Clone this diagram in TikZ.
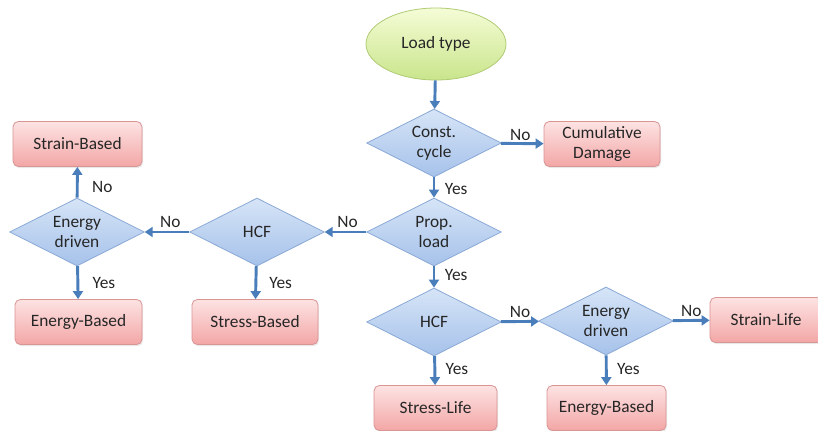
\documentclass[tikz,border=0pt]{standalone}
\usepackage{fontspec}
\setmainfont{Carlito}
\usetikzlibrary{shapes.geometric,arrows.meta,shadows}
\definecolor{dtop}{HTML}{D6E4F7}
\definecolor{dbot}{HTML}{A6C2EA}
\definecolor{dline}{HTML}{8AA9D6}
\definecolor{btop}{HTML}{FDE3E3}
\definecolor{bbot}{HTML}{F3A6A6}
\definecolor{bline}{HTML}{D99494}
\definecolor{etop}{HTML}{F5FCD6}
\definecolor{ebot}{HTML}{C9E58C}
\definecolor{eline}{HTML}{AFCB74}
\definecolor{arr}{HTML}{4A7EBB}
\tikzset{
  every node/.style={font=\fontsize{13}{15}\selectfont, text=black!85},
  dec/.style={diamond, aspect=1.98, minimum width=101pt, minimum height=51pt, inner sep=0pt,
    top color=dtop, bottom color=dbot, draw=dline, line width=0.6pt, align=center},
  res/.style={rectangle, rounded corners=4pt, minimum height=33.75pt, inner sep=2pt,
    top color=btop, bottom color=bbot, draw=bline, line width=0.6pt, align=center,
    drop shadow={opacity=0.18, shadow xshift=0.8pt, shadow yshift=-1.2pt}},
  start/.style={ellipse, minimum width=105pt, minimum height=54pt, inner sep=0pt,
    top color=etop, bottom color=ebot, draw=eline, line width=0.6pt},
  flow/.style={draw=arr, line width=2.2pt, -{Triangle[length=6pt, width=7.5pt]}},
  lbl/.style={inner sep=1pt}
}
\begin{document}
\begin{tikzpicture}[x=0.75pt, y=-0.75pt]
\useasboundingbox (0,0) rectangle (818,430);
\node[start] (load) at (436,44) {Load type};
\node[dec] (cc) at (434,143) {Const.\\cycle};
\node[res, minimum width=87pt] (cum) at (602,144) {Cumulative\\Damage};
\node[dec] (prop) at (434,232) {Prop.\\load};
\node[dec] (hcfL) at (257,232) {HCF};
\node[dec] (enL) at (77,232) {Energy\\driven};
\node[res, minimum width=96.75pt] (strB) at (77.5,144) {Strain-Based};
\node[res, minimum width=95.25pt] (enBL) at (78.5,322) {Energy-Based};
\node[res, minimum width=94.5pt] (stB) at (255,322) {Stress-Based};
\node[dec] (hcfR) at (434,322) {HCF};
\node[dec] (enR) at (606,321) {Energy\\driven};
\node[res, minimum width=84pt] (strL) at (766,320) {Strain-Life};
\node[res, minimum width=92.25pt] (stL) at (435.5,408) {Stress-Life};
\node[res, minimum width=89.25pt] (enBR) at (606.5,408) {Energy-Based};

\draw[flow] (load) -- (cc);
\draw[flow] (cc) -- node[lbl, above, xshift=-1.5pt] {No} (cum);
\draw[flow] (cc) -- node[lbl, right, xshift=6pt, pos=0.55] {Yes} (prop);
\draw[flow] (prop) -- node[lbl, above, xshift=1.5pt, yshift=1pt] {No} (hcfL);
\draw[flow] (hcfL) -- node[lbl, above, xshift=2.5pt, yshift=1pt] {No} (enL);
\draw[flow] (enL) -- node[lbl, right, xshift=9pt, pos=0.35] {No} (strB);
\draw[flow] (enL) -- node[lbl, right, xshift=9pt, pos=0.5] {Yes} (enBL);
\draw[flow] (hcfL) -- node[lbl, right, xshift=8pt, pos=0.5] {Yes} (stB);
\draw[flow] (prop) -- node[lbl, right, xshift=6pt, pos=0.4] {Yes} (hcfR);
\draw[flow] (hcfR) -- node[lbl, above, yshift=1pt] {No} (enR);
\draw[flow] (enR) -- node[lbl, above, yshift=1pt] {No} (strL);
\draw[flow] (hcfR) -- node[lbl, right, xshift=6pt, pos=0.45] {Yes} (stL);
\draw[flow] (enR) -- node[lbl, right, xshift=6pt, pos=0.45] {Yes} (enBR);
\end{tikzpicture}
\end{document}
